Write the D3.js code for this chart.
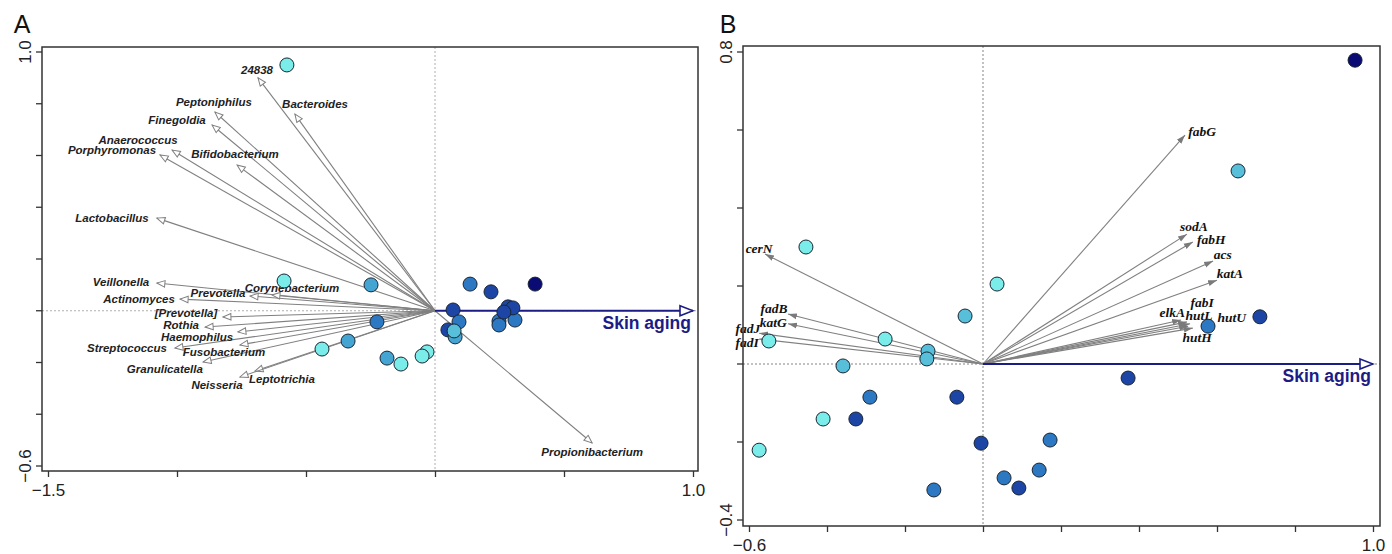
<!DOCTYPE html>
<html>
<head>
<meta charset="utf-8">
<script src="https://cdn.jsdelivr.net/npm/d3@7"></script>
<style>
  body { margin: 0; background: #fff; }
  svg { display: block; }
</style>
</head>
<body>
<div id="viz"></div>
<script>
const width = 1392;
const height = 554;

// ---- Panel A : taxa biplot ----
const taxaNames = ['24838', 'Peptoniphilus', 'Bacteroides', 'Finegoldia', 'Anaerococcus', 'Porphyromonas',
  'Bifidobacterium', 'Lactobacillus', 'Veillonella', 'Actinomyces', 'Prevotella', 'Corynebacterium',
  '[Prevotella]', 'Rothia', 'Haemophilus', 'Streptococcus', 'Fusobacterium', 'Granulicatella',
  'Leptotrichia', 'Neisseria', 'Propionibacterium'];
const taxaX = [-0.686, -0.853, -0.543, -0.864, -1.019, -1.066, -0.767, -1.078, -1.078, -0.988, -0.717, -0.632,
  -0.822, -0.891, -0.764, -1.008, -0.756, -0.899, -0.698, -0.756, 0.609];
const taxaY = [0.900, 0.768, 0.760, 0.718, 0.621, 0.602, 0.563, 0.358, 0.107, 0.045, 0.057, 0.061,
  -0.024, -0.063, -0.082, -0.144, -0.132, -0.198, -0.233, -0.256, -0.511];
const taxaLabelX = [-0.690, -0.857, -0.465, -1.000, -1.151, -1.252, -0.775, -1.252, -1.217, -1.147, -0.841, -0.554,
  -0.965, -0.984, -0.922, -1.194, -0.818, -1.047, -0.593, -0.845, 0.609];
const taxaLabelY = [0.930, 0.807, 0.799, 0.737, 0.660, 0.621, 0.606, 0.358, 0.111, 0.045, 0.069, 0.088,
  -0.008, -0.055, -0.103, -0.144, -0.158, -0.225, -0.264, -0.287, -0.546];

const samplesAX = [-0.574, -0.585, -0.248, -0.225, -0.438, -0.337, -0.186, -0.132, -0.031, -0.050, 0.136, 0.217,
  0.388, 0.070, 0.093, 0.050, 0.078, 0.074, 0.248, 0.248, 0.310, 0.283, 0.302, 0.267];
const samplesAY = [0.950, 0.115, 0.100, -0.043, -0.148, -0.117, -0.183, -0.206, -0.159, -0.175, 0.103, 0.073,
  0.103, 0.003, -0.043, -0.074, -0.101, -0.078, -0.040, -0.055, -0.036, 0.015, 0.011, -0.005];
const samplesAAge = [0, 0, 2, 3, 0, 2, 2, 0, 0, 0, 3, 4, 5, 4, 3, 4, 2, 1, 3, 3, 3, 4, 4, 4];

// ---- Panel B : gene biplot ----
const geneNames = ['fabG', 'sodA', 'fabH', 'acs', 'katA', 'elkA', 'fabI', 'hutL', 'hutU', 'hutH',
  'cerN', 'fadB', 'katG', 'fadJ', 'fadI'];
const geneX = [0.518, 0.523, 0.538, 0.590, 0.600, 0.508, 0.523, 0.531, 0.526, 0.538,
  -0.559, -0.500, -0.500, -0.574, -0.574];
const geneY = [0.587, 0.333, 0.313, 0.264, 0.215, 0.113, 0.108, 0.103, 0.097, 0.092,
  0.282, 0.128, 0.103, 0.079, 0.064];
const geneLabelX = [0.562, 0.541, 0.585, 0.615, 0.633, 0.485, 0.562, 0.554, 0.638, 0.549,
  -0.574, -0.536, -0.538, -0.603, -0.605];
const geneLabelY = [0.597, 0.354, 0.321, 0.282, 0.233, 0.133, 0.158, 0.126, 0.121, 0.069,
  0.297, 0.144, 0.108, 0.091, 0.055];

const samplesBX = [-0.454, 0.036, -0.046, -0.549, -0.251, -0.141, -0.144, -0.359, -0.290, -0.067, -0.410, -0.326,
  -0.574, -0.005, -0.126, 0.054, 0.092, 0.954, 0.654, 0.710, 0.577, 0.372, 0.172, 0.144];
const samplesBY = [0.300, 0.205, 0.123, 0.059, 0.064, 0.033, 0.013, -0.005, -0.085, -0.085, -0.141, -0.141,
  -0.221, -0.203, -0.323, -0.292, -0.318, 0.779, 0.495, 0.121, 0.097, -0.036, -0.195, -0.272];
const samplesBAge = [0, 0, 1, 0, 0, 1, 1, 1, 3, 4, 0, 4, 0, 4, 3, 3, 4, 5, 1, 4, 3, 4, 3, 3];

// Skin aging vector and axis ticks
const skinAging = [1.0, 0];
const ticksAX = [-1.5, -1.0, -0.5, 0, 0.5, 1.0];
const ticksAY = [-0.6, -0.4, -0.2, 0, 0.2, 0.4, 0.6, 0.8, 1.0];
const ticksBX = [-0.6, -0.4, -0.2, 0, 0.2, 0.4, 0.6, 0.8, 1.0];
const ticksBY = [-0.4, -0.2, 0, 0.2, 0.4, 0.6, 0.8];

const ageColors = ['#7aece9', '#58bfda', '#44a5d3', '#2d78c3', '#1d45a6', '#0a0b74'];
const skinColor = '#1c1c86';

const svg = d3.select('#viz')
  .append('svg')
    .attr('width', width)
    .attr('height', height)
    .style('font-family', 'Liberation Sans, Arial, sans-serif');

// Markers
const defs = svg.append('defs');
defs.append('marker')
    .attr('id', 'openGray')
    .attr('viewBox', '-1 -5 11 10')
    .attr('refX', 8).attr('refY', 0)
    .attr('markerWidth', 11).attr('markerHeight', 10)
    .attr('markerUnits', 'userSpaceOnUse')
    .attr('orient', 'auto')
  .append('path')
    .attr('d', 'M0,-3.3L8,0L0,3.3Z')
    .attr('fill', '#fff')
    .attr('stroke', '#808080')
    .attr('stroke-width', 1);
defs.append('marker')
    .attr('id', 'solidGray')
    .attr('viewBox', '0 -5 10 10')
    .attr('refX', 9).attr('refY', 0)
    .attr('markerWidth', 10).attr('markerHeight', 10)
    .attr('markerUnits', 'userSpaceOnUse')
    .attr('orient', 'auto')
  .append('path')
    .attr('d', 'M0,-3L9,0L0,3Z')
    .attr('fill', '#7a7a7a');
defs.append('marker')
    .attr('id', 'openNavy')
    .attr('viewBox', '-1 -7 16 14')
    .attr('refX', 13).attr('refY', 0)
    .attr('markerWidth', 16).attr('markerHeight', 14)
    .attr('markerUnits', 'userSpaceOnUse')
    .attr('orient', 'auto')
  .append('path')
    .attr('d', 'M0,-5L13,0L0,5Z')
    .attr('fill', '#fff')
    .attr('stroke', skinColor)
    .attr('stroke-width', 1.6);

const drawPanel = (p) => {
  const xScale = d3.scaleLinear().domain(p.xDomain).range(p.xRange);
  const yScale = d3.scaleLinear().domain(p.yDomain).range(p.yRange);
  const g = svg.append('g');

  // zero lines
  g.append('line')
      .attr('x1', xScale(0)).attr('x2', xScale(0))
      .attr('y1', p.box.top).attr('y2', p.box.bottom)
      .attr('stroke', p.zeroColor).attr('stroke-width', 0.8)
      .attr('stroke-dasharray', '2,2');
  g.append('line')
      .attr('x1', p.box.left).attr('x2', p.box.right)
      .attr('y1', yScale(0)).attr('y2', yScale(0))
      .attr('stroke', p.zeroColor).attr('stroke-width', 0.8)
      .attr('stroke-dasharray', '2,2');

  // variable arrows
  g.append('g')
    .selectAll('line')
    .data(p.names)
    .join('line')
      .attr('x1', xScale(0)).attr('y1', yScale(0))
      .attr('x2', (d, i) => xScale(p.vx[i]))
      .attr('y2', (d, i) => yScale(p.vy[i]))
      .attr('stroke', '#808080')
      .attr('stroke-width', 1.1)
      .attr('marker-end', `url(#${p.marker})`);

  g.append('g')
    .selectAll('text')
    .data(p.names)
    .join('text')
      .attr('x', (d, i) => xScale(p.lx[i]))
      .attr('y', (d, i) => yScale(p.ly[i]))
      .attr('dy', '0.35em')
      .attr('text-anchor', 'middle')
      .style('font-family', p.labelFont)
      .style('font-size', p.labelSize)
      .style('font-weight', 700)
      .style('font-style', 'italic')
      .attr('fill', p.labelColor)
      .text(d => d);

  // Skin aging vector
  g.append('line')
      .attr('x1', xScale(0)).attr('y1', yScale(0))
      .attr('x2', xScale(skinAging[0])).attr('y2', yScale(skinAging[1]))
      .attr('stroke', skinColor)
      .attr('stroke-width', 1.8)
      .attr('marker-end', 'url(#openNavy)');
  g.append('text')
      .attr('x', xScale(skinAging[0]) - 2)
      .attr('y', yScale(0) + 18)
      .attr('text-anchor', 'end')
      .style('font-size', '17.5px')
      .style('font-weight', 700)
      .attr('fill', skinColor)
      .text('Skin aging');

  // samples
  g.append('g')
    .selectAll('circle')
    .data(p.sx)
    .join('circle')
      .attr('cx', d => xScale(d))
      .attr('cy', (d, i) => yScale(p.sy[i]))
      .attr('r', 7)
      .attr('fill', (d, i) => ageColors[p.age[i]])
      .attr('stroke', '#1a2633')
      .attr('stroke-width', 1);

  // box
  g.append('rect')
      .attr('x', p.box.left).attr('y', p.box.top)
      .attr('width', p.box.right - p.box.left)
      .attr('height', p.box.bottom - p.box.top)
      .attr('fill', 'none')
      .attr('stroke', '#333')
      .attr('stroke-width', 1.5);

  // axes (only the end ticks are labelled)
  const xAxis = d3.axisBottom(xScale)
    .tickValues(p.xTicks)
    .tickSize(6)
    .tickSizeOuter(0)
    .tickFormat((d, i) => (i === 0 || i === p.xTicks.length - 1) ? d3.format('.1f')(d) : '');
  const xg = g.append('g')
      .attr('transform', `translate(0, ${p.box.bottom})`)
      .call(xAxis);
  xg.select('.domain').remove();
  xg.selectAll('line').attr('stroke', '#333').attr('stroke-width', 1.3);
  xg.selectAll('text')
      .attr('fill', '#222')
      .attr('y', 10)
      .attr('dy', '0.9em')
      .attr('font-size', 17)
      .style('font-size', '17px')
      .style('font-family', 'Liberation Sans, Arial, sans-serif');

  const yAxis = d3.axisLeft(yScale)
    .tickValues(p.yTicks)
    .tickSize(6)
    .tickSizeOuter(0)
    .tickFormat((d, i) => (i === 0 || i === p.yTicks.length - 1) ? d3.format('.1f')(d) : '');
  const yg = g.append('g')
      .attr('transform', `translate(${p.box.left}, 0)`)
      .call(yAxis);
  yg.select('.domain').remove();
  yg.selectAll('.tick').attr('transform', null);
  yg.selectAll('.tick line')
      .attr('y1', d => yScale(d)).attr('y2', d => yScale(d))
      .attr('stroke', '#333').attr('stroke-width', 1.3);
  yg.selectAll('text')
      .attr('fill', '#222')
      .attr('x', 0).attr('y', 0).attr('dy', 0)
      .attr('text-anchor', 'middle')
      .attr('transform', d => `translate(-11, ${yScale(d)}) rotate(-90)`)
      .attr('font-size', 17)
      .style('font-size', '17px')
      .style('font-family', 'Liberation Sans, Arial, sans-serif');

  // panel letter
  svg.append('text')
      .attr('x', p.letterX).attr('y', 33)
      .attr('text-anchor', 'middle')
      .style('font-size', '25px')
      .attr('fill', '#111')
      .text(p.letter);
};

drawPanel({
  letter: 'A', letterX: 22,
  xDomain: [-1.5, 1.0], xRange: [48, 693],
  yDomain: [-0.6, 1.0], yRange: [466, 52],
  box: {left: 42, right: 698, top: 47, bottom: 471},
  xTicks: ticksAX, yTicks: ticksAY,
  names: taxaNames, vx: taxaX, vy: taxaY, lx: taxaLabelX, ly: taxaLabelY,
  sx: samplesAX, sy: samplesAY, age: samplesAAge,
  marker: 'openGray', zeroColor: '#9a9a9a',
  labelFont: 'Liberation Sans, Arial, sans-serif', labelSize: '11.5px', labelColor: '#222'
});

drawPanel({
  letter: 'B', letterX: 728,
  xDomain: [-0.6, 1.0], xRange: [749, 1373],
  yDomain: [-0.4, 0.8], yRange: [520, 52],
  box: {left: 743, right: 1380, top: 46, bottom: 526},
  xTicks: ticksBX, yTicks: ticksBY,
  names: geneNames, vx: geneX, vy: geneY, lx: geneLabelX, ly: geneLabelY,
  sx: samplesBX, sy: samplesBY, age: samplesBAge,
  marker: 'solidGray', zeroColor: '#666',
  labelFont: 'Liberation Serif, Times New Roman, serif', labelSize: '13.5px', labelColor: '#111'
});
</script>
</body>
</html>
